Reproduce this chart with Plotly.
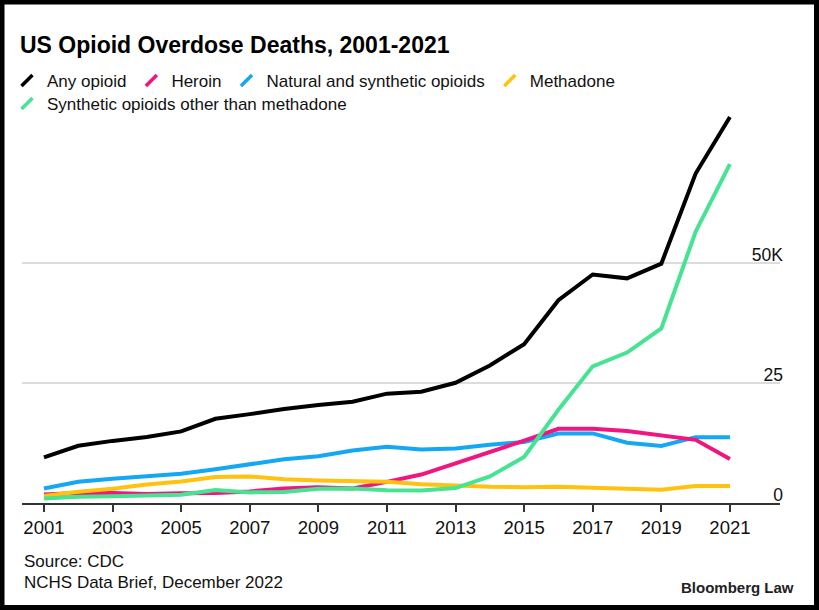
import plotly.graph_objects as go

years = list(range(2001, 2022))
any_opioid = [9496, 11920, 12940, 13756, 14918, 17545, 18516, 19582, 20422, 21089,
              22784, 23166, 25052, 28647, 33091, 42249, 47600, 46802, 49860, 68630, 80411]
heroin = [1779, 2089, 2080, 1878, 2009, 2088, 2399, 3041, 3278, 3036,
          4397, 5925, 8257, 10574, 12989, 15469, 15482, 14996, 14019, 13165, 9173]
natural_synth = [3007, 4416, 5038, 5547, 6074, 7017, 8158, 9119, 9736, 10943,
                 11693, 11140, 11346, 12159, 12727, 14487, 14495, 12552, 11886, 13722, 13722]
methadone = [1456, 2358, 2972, 3845, 4460, 5406, 5518, 4924, 4696, 4577,
             4418, 3932, 3591, 3400, 3301, 3373, 3194, 3023, 2740, 3543, 3543]
synthetic_other = [957, 1295, 1400, 1664, 1742, 2707, 2213, 2306, 2946, 3007,
                   2666, 2628, 3105, 5544, 9580, 19413, 28466, 31335, 36359, 56516, 70601]

x_ticks = list(range(2001, 2022, 2))
y_ticks = [0, 25000, 50000]
y_tick_labels = ["0", "25", "50K"]

series_names = ["Any opioid", "Heroin", "Natural and synthetic opioids", "Methadone",
                "Synthetic opioids other than methadone"]
series_values = [any_opioid, heroin, natural_synth, methadone, synthetic_other]
colors = ["#000000", "#f0157f", "#14a8f4", "#ffc20e", "#46e392"]

W, H = 819, 610
L, R, T, B = 22, 39, 110, 107
PW, PH = W - L - R, H - T - B


def px_x(p):
    return (p - L) / PW


def px_y(p):
    return (H - B - p) / PH


FONT = "Liberation Sans, Arial, sans-serif"

fig = go.Figure()

# draw order: blue, pink, yellow, green, black
for idx in [2, 1, 3, 4, 0]:
    fig.add_trace(go.Scatter(x=years, y=series_values[idx], mode="lines",
                             line=dict(color=colors[idx], width=4),
                             showlegend=False, hoverinfo="skip"))

# legend entries (slanted line symbols); last one on a second legend row
for i, (name, c) in enumerate(zip(series_names, colors)):
    fig.add_trace(go.Scatter(x=[None], y=[None], mode="markers", name=name,
                             legend="legend2" if i == 4 else "legend",
                             marker=dict(symbol="line-ne", size=11,
                                         line=dict(width=3.5, color=c))))

legend_common = dict(orientation="h", xanchor="left", yanchor="top",
                     xref="container", yref="container",
                     font=dict(size=17, color="#111111"), itemwidth=30,
                     bgcolor="rgba(0,0,0,0)")

fig.update_layout(
    width=W, height=H,
    margin=dict(l=L, r=R, t=T, b=B, autoexpand=False),
    paper_bgcolor="white", plot_bgcolor="white",
    font=dict(family=FONT, color="#111111"),
    title=dict(text="<b>US Opioid Overdose Deaths, 2001-2021</b>",
               x=20 / W, xanchor="left", xref="container",
               y=1 - 45 / H, yanchor="middle", yref="container",
               font=dict(size=23, color="#000000", family=FONT)),
    legend=dict(x=7 / W, y=1 - 63 / H, **legend_common),
    legend2=dict(x=7 / W, y=1 - 86 / H, **legend_common),
    xaxis=dict(range=[2000.36, 2022.46], tickvals=x_ticks,
               ticktext=[str(v) for v in x_ticks],
               ticks="outside", ticklen=7, tickwidth=1.5, tickcolor="#333333",
               showline=True, linecolor="#333333", linewidth=2,
               showgrid=False, zeroline=False,
               tickfont=dict(size=18.5, color="#111111")),
    yaxis=dict(range=[0, PH / 4.8 * 1000], tickvals=y_ticks, ticktext=y_tick_labels,
               side="right", ticklabelposition="inside top",
               ticklabelshift=4, ticklabelstandoff=-6, ticklabeloverflow="allow",
               showgrid=True, gridcolor="#dcdcdc", gridwidth=1.5,
               zeroline=False, showline=False, ticks="",
               tickfont=dict(size=17.5, color="#111111")),
    showlegend=True,
    annotations=[
        dict(text="Source: CDC", xref="paper", yref="paper", x=0, y=px_y(561),
             xanchor="left", yanchor="middle", showarrow=False,
             font=dict(size=17, color="#111111", family=FONT)),
        dict(text="NCHS Data Brief, December 2022", xref="paper", yref="paper",
             x=0, y=px_y(582), xanchor="left", yanchor="middle", showarrow=False,
             font=dict(size=17, color="#111111", family=FONT)),
        dict(text="<b>Bloomberg Law</b>", xref="paper", yref="paper",
             x=px_x(796), y=px_y(587), xanchor="right", yanchor="middle",
             showarrow=False, font=dict(size=15, color="#222222", family=FONT)),
    ],
    shapes=[dict(type="rect", xref="paper", yref="paper",
                 x0=px_x(2), x1=px_x(W - 2.5), y0=px_y(H - 2.5), y1=px_y(2),
                 line=dict(color="#000000", width=5), fillcolor="rgba(0,0,0,0)",
                 layer="above")],
)

fig.write_html("out.html", config={"displayModeBar": False},
               post_script="document.body.style.margin='0';")
